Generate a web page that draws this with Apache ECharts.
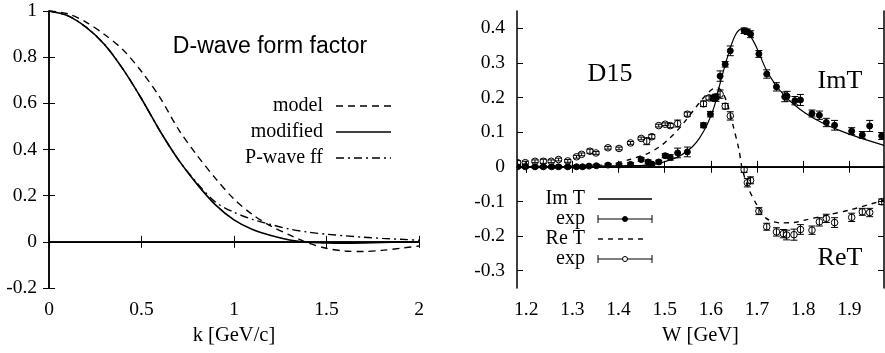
<!DOCTYPE html>
<html>
<head>
<meta charset="utf-8">
<script src="https://cdn.jsdelivr.net/npm/echarts@6/dist/echarts.min.js"></script>
<style>
  html, body { margin: 0; padding: 0; background: #fff; }
  #chart { width: 885px; height: 353px; }
</style>
</head>
<body>
<div id="chart"></div>
<script>
// left panel: form factors vs k
const kValues = [0, 0.1, 0.2, 0.3, 0.4, 0.5, 0.6, 0.7, 0.8, 0.9, 1.0, 1.1, 1.2, 1.3, 1.4, 1.5, 1.6, 1.7, 1.8, 1.9, 2.0]
const modelFF = [1, 0.988, 0.952, 0.898, 0.832, 0.738, 0.625, 0.487, 0.375, 0.275, 0.185, 0.118, 0.068, 0.03, -0.005, -0.028, -0.04, -0.042, -0.037, -0.028, -0.018]
const modifiedFF = [1, 0.98, 0.93, 0.855, 0.748, 0.62, 0.48, 0.355, 0.25, 0.16, 0.095, 0.053, 0.027, 0.008, -0.002, -0.005, -0.006, -0.005, -0.003, -0.001, 0]
const pwaveFF = [1, 0.98, 0.93, 0.855, 0.748, 0.62, 0.48, 0.355, 0.255, 0.172, 0.128, 0.097, 0.075, 0.055, 0.042, 0.033, 0.026, 0.02, 0.015, 0.011, 0.007]
const leftXTicks = [0, 0.5, 1, 1.5, 2]
const leftYTicks = [-0.2, 0, 0.2, 0.4, 0.6, 0.8, 1]

// right panel: D15 amplitude vs W
const imW = [1.18, 1.25, 1.30, 1.35, 1.40, 1.45, 1.467, 1.49, 1.51, 1.53, 1.546, 1.56, 1.575, 1.593, 1.607, 1.618, 1.63, 1.643, 1.652, 1.661, 1.67, 1.68, 1.69, 1.70, 1.72, 1.74, 1.76, 1.78, 1.805, 1.84, 1.877, 1.92, 1.975]
const imT = [0, 0.0005, 0.001, 0.002, 0.003, 0.004, 0.005, 0.011, 0.019, 0.029, 0.043, 0.058, 0.082, 0.125, 0.173, 0.231, 0.29, 0.347, 0.378, 0.395, 0.399, 0.39, 0.368, 0.342, 0.28, 0.237, 0.205, 0.18, 0.155, 0.128, 0.106, 0.085, 0.062]
const reW = [1.18, 1.25, 1.30, 1.35, 1.381, 1.424, 1.464, 1.489, 1.51, 1.528, 1.546, 1.568, 1.589, 1.607, 1.615, 1.625, 1.635, 1.647, 1.661, 1.667, 1.68, 1.70, 1.72, 1.75, 1.78, 1.80, 1.85, 1.90, 1.975]
const reT = [0, 0.001, 0.002, 0.004, 0.007, 0.021, 0.039, 0.058, 0.082, 0.106, 0.135, 0.173, 0.207, 0.227, 0.228, 0.215, 0.185, 0.125, 0.048, 0, -0.058, -0.111, -0.149, -0.162, -0.161, -0.155, -0.14, -0.125, -0.096]

const imExpW = [1.181, 1.198, 1.219, 1.237, 1.255, 1.270, 1.290, 1.309, 1.322, 1.336, 1.352, 1.377, 1.401, 1.426, 1.449, 1.464, 1.472, 1.487, 1.501, 1.512, 1.528, 1.549, 1.584, 1.599, 1.606, 1.611, 1.620, 1.631, 1.642, 1.672, 1.679, 1.686, 1.704, 1.721, 1.742, 1.760, 1.765, 1.782, 1.794, 1.819, 1.835, 1.850, 1.868, 1.905, 1.928, 1.944, 1.970]
const imExpV = [0, 0, 0, 0, 0, 0, 0, 0, 0, 0.002, 0.003, 0.005, 0.005, 0.007, 0.021, 0.014, 0.008, 0.014, 0.032, 0.027, 0.040, 0.043, 0.120, 0.152, 0.198, 0.199, 0.262, 0.296, 0.335, 0.393, 0.390, 0.383, 0.326, 0.268, 0.231, 0.202, 0.204, 0.191, 0.193, 0.154, 0.149, 0.128, 0.120, 0.103, 0.092, 0.118, 0.089]
const imExpE = [0.004, 0.004, 0.004, 0.004, 0.004, 0.004, 0.004, 0.004, 0.004, 0.004, 0.004, 0.004, 0.005, 0.005, 0.005, 0.006, 0.005, 0.005, 0.006, 0.008, 0.014, 0.014, 0.007, 0.008, 0.008, 0.010, 0.015, 0.008, 0.014, 0.008, 0.008, 0.010, 0.010, 0.012, 0.012, 0.014, 0.014, 0.012, 0.016, 0.010, 0.012, 0.012, 0.014, 0.010, 0.010, 0.016, 0.010]

const reExpW = [1.181, 1.198, 1.219, 1.237, 1.254, 1.270, 1.290, 1.309, 1.320, 1.338, 1.351, 1.377, 1.401, 1.426, 1.449, 1.461, 1.472, 1.487, 1.501, 1.512, 1.528, 1.549, 1.584, 1.596, 1.605, 1.611, 1.620, 1.631, 1.642, 1.672, 1.679, 1.686, 1.704, 1.721, 1.742, 1.757, 1.764, 1.780, 1.794, 1.819, 1.835, 1.850, 1.868, 1.905, 1.928, 1.944, 1.970]
const reExpV = [0.012, 0.012, 0.016, 0.016, 0.016, 0.021, 0.017, 0.029, 0.036, 0.045, 0.040, 0.055, 0.053, 0.069, 0.082, 0.074, 0.087, 0.119, 0.123, 0.119, 0.125, 0.152, 0.182, 0.199, 0.199, 0.202, 0.210, 0.175, 0.147, -0.008, -0.046, -0.039, -0.128, -0.173, -0.188, -0.193, -0.197, -0.196, -0.181, -0.183, -0.159, -0.149, -0.161, -0.146, -0.130, -0.132, -0.101]
const reExpE = [0.006, 0.004, 0.004, 0.006, 0.004, 0.004, 0.004, 0.004, 0.004, 0.006, 0.004, 0.004, 0.004, 0.004, 0.004, 0.010, 0.006, 0.004, 0.004, 0.006, 0.010, 0.006, 0.008, 0.006, 0.006, 0.008, 0.012, 0.008, 0.012, 0.008, 0.012, 0.010, 0.010, 0.010, 0.012, 0.012, 0.014, 0.016, 0.014, 0.012, 0.012, 0.012, 0.014, 0.012, 0.010, 0.012, 0.008]
const rightXTicks = [1.2, 1.3, 1.4, 1.5, 1.6, 1.7, 1.8, 1.9]
const rightYTicks = [-0.3, -0.2, -0.1, 0, 0.1, 0.2, 0.3, 0.4]

const serif = 'Liberation Serif'
const zip = (a, b) => a.map((v, i) => [v, b[i]])
const zip3 = (a, b, c) => a.map((v, i) => [v, b[i], c[i]])

const frame = { show: true, lineStyle: { color: '#000', width: 1.5 } }
const tick = { show: true, inside: true, length: 6, lineStyle: { color: '#000', width: 1 } }
const tickLabel = (ticks) => ({ customValues: ticks, margin: 12, color: '#000', fontFamily: serif, fontSize: 19.5 })

function xAxes(grid, min, max, ticks, name) {
  return [
    { type: 'value', gridIndex: grid, position: 'bottom', min, max, axisLine: frame, splitLine: { show: false },
      axisTick: Object.assign({ customValues: ticks }, tick),
      axisLabel: tickLabel(ticks),
      name, nameLocation: 'middle', nameGap: 34,
      nameTextStyle: { color: '#000', fontFamily: serif, fontSize: 20.5 } },
    { type: 'value', gridIndex: grid, position: 'top', min, max, axisLine: frame, splitLine: { show: false },
      axisTick: Object.assign({ customValues: ticks }, tick), axisLabel: { show: false } }
  ]
}

function yAxes(grid, min, max, ticks) {
  return [
    { type: 'value', gridIndex: grid, position: 'left', min, max, axisLine: frame, splitLine: { show: false },
      axisTick: Object.assign({ customValues: ticks }, tick),
      axisLabel: tickLabel(ticks) },
    { type: 'value', gridIndex: grid, position: 'right', min, max, axisLine: frame, splitLine: { show: false },
      axisTick: Object.assign({ customValues: ticks }, tick), axisLabel: { show: false } }
  ]
}

function errorBars(filled) {
  return function (params, api) {
    const x = api.value(0), y = api.value(1), e = api.value(2)
    const c = api.coord([x, y])
    const lo = api.coord([x, y - e])
    const hi = api.coord([x, y + e])
    const st = { stroke: '#000', lineWidth: 1, fill: null }
    return {
      type: 'group',
      children: [
        { type: 'line', shape: { x1: c[0], y1: lo[1], x2: c[0], y2: hi[1] }, style: st },
        { type: 'line', shape: { x1: c[0] - 3.5, y1: lo[1], x2: c[0] + 3.5, y2: lo[1] }, style: st },
        { type: 'line', shape: { x1: c[0] - 3.5, y1: hi[1], x2: c[0] + 3.5, y2: hi[1] }, style: st },
        { type: 'circle', shape: { cx: c[0], cy: c[1], r: filled ? 3 : 3.3 },
          style: { fill: filled ? '#000' : 'none', stroke: '#000', lineWidth: 1 } }
      ]
    }
  }
}

function curve(x, y, xi, yi, type, width) {
  return {
    type: 'line', xAxisIndex: xi, yAxisIndex: yi, data: zip(x, y), smooth: 0.3, symbol: 'none',
    lineStyle: { color: '#000', width, type }, silent: true, z: 3
  }
}

const zeroLine = {
  silent: true, symbol: 'none', label: { show: false },
  lineStyle: { color: '#000', width: 1, type: 'solid' }, data: [{ yAxis: 0 }]
}

const legendText = (text, x, y) => ({
  type: 'text', x, y, style: { text, fontFamily: serif, fontSize: 20, fill: '#000', align: 'right', verticalAlign: 'middle' }
})
const legendLine = (x1, x2, y, dash) => ({
  type: 'line', shape: { x1, y1: y, x2, y2: y }, style: { stroke: '#000', lineWidth: 1.4, lineDash: dash }
})
const legendBar = (x1, x2, y, filled) => ({
  type: 'group', children: [
    { type: 'line', shape: { x1, y1: y, x2, y2: y }, style: { stroke: '#000', lineWidth: 1 } },
    { type: 'line', shape: { x1, y1: y - 4, x2: x1, y2: y + 4 }, style: { stroke: '#000', lineWidth: 1 } },
    { type: 'line', shape: { x1: x2, y1: y - 4, x2, y2: y + 4 }, style: { stroke: '#000', lineWidth: 1 } },
    { type: 'circle', shape: { cx: (x1 + x2) / 2, cy: y, r: 2.5 },
      style: { fill: filled ? '#000' : '#fff', stroke: '#000', lineWidth: 1 } }
  ]
})
const bigText = (text, x, y, size, family) => ({
  type: 'text', x, y, style: { text, fontFamily: family, fontSize: size, fill: '#000', align: 'center', verticalAlign: 'middle' }
})

const options = {
  animation: false,
  backgroundColor: '#fff',
  grid: [
    { left: 49, top: 11, width: 370, height: 277 },
    { left: 517, top: 11, width: 367, height: 277 }
  ],
  xAxis: [].concat(xAxes(0, 0, 2, leftXTicks, 'k [GeV/c]'), xAxes(1, 1.18, 1.975, rightXTicks, 'W [GeV]')),
  yAxis: [].concat(yAxes(0, -0.2, 1, leftYTicks), yAxes(1, -0.35, 0.45, rightYTicks)),
  series: [
    Object.assign(curve(kValues, modelFF, 0, 0, [7, 5], 1.4), { markLine: zeroLine }),
    curve(kValues, modifiedFF, 0, 0, 'solid', 1.6),
    curve(kValues, pwaveFF, 0, 0, [8, 4, 2, 4], 1.4),
    Object.assign(curve(imW, imT, 2, 2, 'solid', 1.2), { markLine: zeroLine }),
    curve(reW, reT, 2, 2, [5, 5], 1.4),
    { type: 'custom', xAxisIndex: 2, yAxisIndex: 2, data: zip3(reExpW, reExpV, reExpE),
      encode: { x: 0, y: 1 }, renderItem: errorBars(false), clip: true, silent: true, z: 4 },
    { type: 'custom', xAxisIndex: 2, yAxisIndex: 2, data: zip3(imExpW, imExpV, imExpE),
      encode: { x: 0, y: 1 }, renderItem: errorBars(true), clip: true, silent: true, z: 5 }
  ],
  graphic: [
    bigText('D-wave form factor', 270, 47, 23, 'Liberation Sans'),
    legendText('model', 323, 106), legendLine(336, 391, 106, [7, 5]),
    legendText('modified', 323, 132), legendLine(336, 391, 132, null),
    legendText('P-wave ff', 323, 158), legendLine(336, 391, 158, [8, 4, 2, 4]),
    bigText('D15', 610, 74, 26, serif),
    bigText('ImT', 840, 81, 26, serif),
    bigText('ReT', 840, 258, 26, serif),
    legendText('Im T', 585, 199), legendLine(598, 652, 199, null),
    legendText('exp', 585, 219), legendBar(598, 652, 219, true),
    legendText('Re T', 585, 239), legendLine(598, 647, 239, [5, 5]),
    legendText('exp', 585, 259), legendBar(598, 652, 259, false)
  ]
}

const chart = echarts.init(document.getElementById('chart'))
chart.setOption(options)
</script>
</body>
</html>
